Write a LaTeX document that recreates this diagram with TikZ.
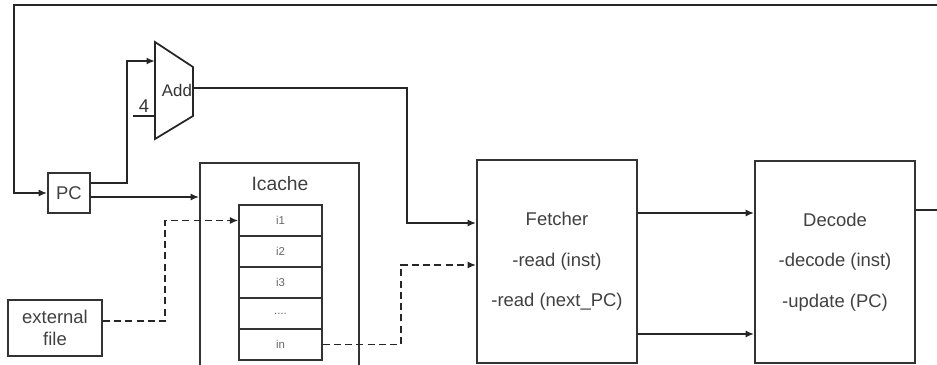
\documentclass[tikz,border=0pt]{standalone}
\usepackage{fontspec}
\setmainfont{Liberation Sans}
\usetikzlibrary{positioning, calc, arrows.meta}

\begin{document}
\begin{tikzpicture}[
    x=0.02cm, y=-0.02cm,
    font=\fontsize{10.5}{12.6}\selectfont,
    block/.style={draw=black!80, line width=1pt, text=black!75, align=center},
    cell/.style={draw=black!80, line width=0.7pt, minimum width=1.66cm,
                 minimum height=0.62cm, inner sep=0pt,
                 font=\fontsize{6.5}{7.5}\selectfont, text=black!60},
    wire/.style={draw=black!85, line width=1pt},
    msg/.style={wire, -{Latex[length=1.7mm, width=1.4mm]}},
    dsh/.style={msg, line width=1.1pt, dash pattern=on 4pt off 2.4pt},
  ]
    \useasboundingbox (0,0) rectangle (937,365);
    % blocks
    \node[block, minimum width=0.84cm, minimum height=0.80cm] (pc) at (69,193) {PC};
    \node[block, minimum width=3.18cm, minimum height=4.74cm] (icache) at (279.5,281.5) {};
    \node[text=black!75, font=\fontsize{11}{13}\selectfont] (ictitle) at (280,184) {Icache};
    \foreach \lbl [count=\i] in {i1,i2,i3,{{....}},in}
      \node[cell] (c\i) at (280.5,{189.5+31*\i}) {\lbl};
    \node[block, minimum width=1.88cm, minimum height=1.12cm] (ext) at (55,328) {external\\file};
    \node[block, minimum width=3.2cm, minimum height=4.06cm] (fetch) at (557,261.5)
      {Fetcher\\[10.5pt]-read (inst)\\[10.5pt]-read (next\_PC)};
    \node[block, minimum width=3.2cm, minimum height=4.04cm] (dec) at (835,262)
      {Decode\\[10.5pt]-decode (inst)\\[10.5pt]-update (PC)};
    % adder
    \draw[wire] (155,42) -- (193,67) -- (193,116) -- (155,139) -- cycle;
    \node[text=black!80, font=\fontsize{9.6}{11}\selectfont] (add) at (177,90) {Add};
    \coordinate (addA)   at (155,61);
    \coordinate (addB)   at (155,116);
    \coordinate (addout) at (193,88);
    % free ends
    \coordinate (fb)     at (937,5);
    \coordinate (fbturn) at (14,5);
    \coordinate (decout) at ($(dec.east)+(0,-52)$);
    \coordinate (pca)  at ($(pc.east)+(0,-10)$);
    \coordinate (pcb)  at ($(pc.east)+(0,4)$);
    \coordinate (fin1) at ($(fetch.west)+(0,-38.5)$);
    \coordinate (fin2) at ($(fetch.west)+(0,3.5)$);
    \coordinate (fo1)  at ($(fetch.east)+(0,-48.5)$);
    \coordinate (fo2)  at ($(fetch.east)+(0,72.5)$);
    \coordinate (exo)  at ($(ext.east)+(0,-7)$);
    % connectors
    \draw[msg] (fb) -- (fbturn) |- (pc.west);
    \draw[msg] (pca) -- ++(36,0) |- (addA);
    \draw[wire] (addB) -- ++(-22,0) node[midway, above, text=black!80, inner sep=1.5pt] (four) {4};
    \draw[msg] (pcb) -- (pcb -| icache.west);
    \draw[msg] (addout) -| ($(fin1)+(-69,0)$) -- (fin1);
    \draw[dsh] (exo) -- ++(62,0) |- (c1.west);
    \draw[dsh] (c5.east) -- ++(78,0) |- (fin2);
    \draw[msg] (fo1) -- (fo1 -| dec.west);
    \draw[msg] (fo2) -- (fo2 -| dec.west);
    \draw[wire] (dec.east |- decout) -- ($(decout)+(22,0)$);
\end{tikzpicture}
\end{document}
